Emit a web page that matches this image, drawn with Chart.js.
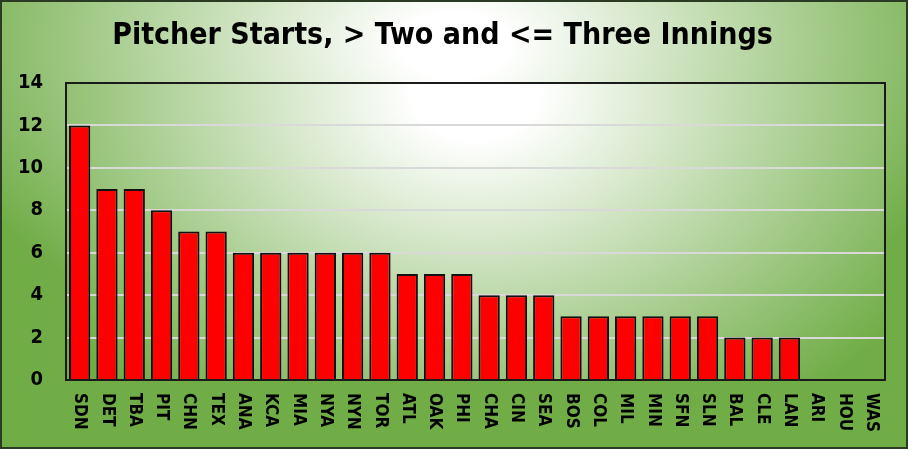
<!DOCTYPE html>
<html>
<head>
<meta charset="utf-8">
<script src="https://cdn.jsdelivr.net/npm/chart.js@4"></script>
<style>
  body { margin: 0; background: #fff; }
  #wrap { width: 908px; height: 449px; }
</style>
</head>
<body>
<div id="wrap"><canvas id="chart" width="908" height="449"></canvas></div>
<script>
const teams = ['SDN', 'DET', 'TBA', 'PIT', 'CHN', 'TEX', 'ANA', 'KCA', 'MIA', 'NYA',
  'NYN', 'TOR', 'ATL', 'OAK', 'PHI', 'CHA', 'CIN', 'SEA', 'BOS', 'COL',
  'MIL', 'MIN', 'SFN', 'SLN', 'BAL', 'CLE', 'LAN', 'ARI', 'HOU', 'WAS'];
const starts = [12, 9, 9, 8, 7, 7, 6, 6, 6, 6,
  6, 6, 5, 5, 5, 4, 4, 4, 3, 3,
  3, 3, 3, 3, 2, 2, 2, 0, 0, 0];
const yTicks = [0, 2, 4, 6, 8, 10, 12, 14];

const FONT = '"DejaVu Sans Condensed", "DejaVu Sans", sans-serif';
const GREEN = '#70ad47';

// elliptical white-to-green fill
function glow(ctx, cx, cy, rx, ry, x, y, w, h, inner) {
  ctx.save();
  ctx.beginPath();
  ctx.rect(x, y, w, h);
  ctx.clip();
  ctx.translate(cx, cy);
  ctx.scale(1, ry / rx);
  const g = ctx.createRadialGradient(0, 0, 0, 0, 0, rx);
  g.addColorStop(0, '#ffffff');
  g.addColorStop(inner, '#ffffff');
  g.addColorStop(1, GREEN);
  ctx.fillStyle = g;
  ctx.fillRect(-2000, -2000, 4000, 4000);
  ctx.restore();
}

const backdrop = {
  id: 'backdrop',
  beforeDraw(chart) {
    const ctx = chart.ctx;
    const { width, height, chartArea: a } = chart;
    glow(ctx, 455, 45, 540, 330, 0, 0, width, height, 0.1);
    glow(ctx, (a.left + a.right) / 2, a.top + 10, 520, 390,
      a.left, a.top, a.right - a.left, a.bottom - a.top, 0.12);
  },
  afterDraw(chart) {
    const ctx = chart.ctx;
    const { width, height, chartArea: a } = chart;
    const x = chart.scales.x;
    ctx.save();
    ctx.strokeStyle = '#1a1a1a';
    ctx.lineWidth = 2;
    ctx.strokeRect(a.left, a.top, a.right - a.left, a.bottom - a.top);
    ctx.strokeStyle = '#2b3a22';
    ctx.strokeRect(1, 1, width - 2, height - 2);

    // category labels read top to bottom
    ctx.fillStyle = '#000';
    ctx.font = 'bold 17px ' + FONT;
    ctx.textAlign = 'left';
    ctx.textBaseline = 'middle';
    teams.forEach((t, i) => {
      ctx.save();
      ctx.translate(x.getPixelForTick(i), a.bottom + 13);
      ctx.rotate(Math.PI / 2);
      ctx.fillText(t, 0, 0);
      ctx.restore();
    });
    ctx.restore();
  }
};

new Chart(document.getElementById('chart'), {
  type: 'bar',
  data: {
    labels: teams,
    datasets: [{
      data: starts,
      backgroundColor: '#ff0000',
      borderColor: '#111',
      borderWidth: 2,
      barPercentage: 0.78,
      categoryPercentage: 1
    }]
  },
  options: {
    responsive: false,
    animation: false,
    layout: { padding: { left: 0, right: 23, top: 0, bottom: 0 } },
    plugins: {
      legend: { display: false },
      tooltip: { enabled: false },
      title: {
        display: true,
        text: 'Pitcher Starts, > Two and <= Three Innings',
        color: '#000',
        font: { family: FONT, size: 30, weight: 'bold', lineHeight: 1.2 },
        padding: { top: 18, bottom: 29 }
      }
    },
    scales: {
      x: {
        grid: { display: false },
        border: { display: false },
        ticks: { display: false },
        afterFit: s => { s.height = 69; }
      },
      y: {
        min: 0,
        max: 14,
        afterFit: s => { s.width = 66; },
        afterBuildTicks: s => { s.ticks = yTicks.map(v => ({ value: v })); },
        grid: { color: '#d9d9d9', lineWidth: 2, drawTicks: false },
        border: { display: false },
        ticks: {
          padding: 23,
          color: '#000',
          font: { family: FONT, size: 20, weight: 'bold' }
        }
      }
    }
  },
  plugins: [backdrop]
});
</script>
</body>
</html>
